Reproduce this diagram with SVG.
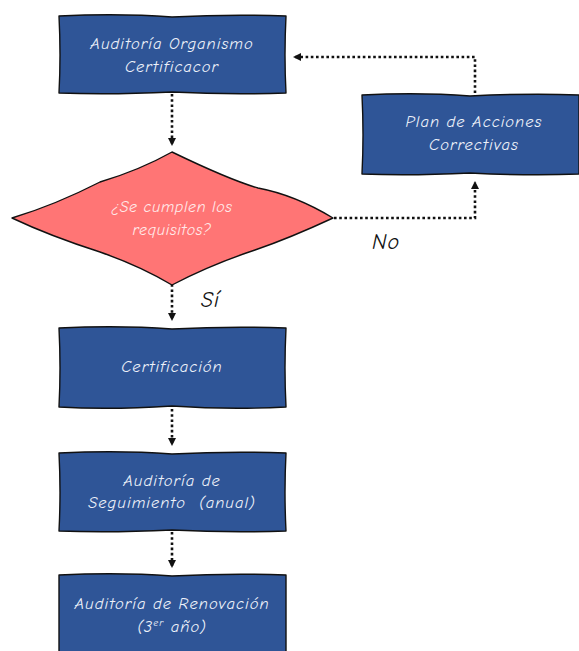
<svg xmlns="http://www.w3.org/2000/svg" width="579" height="651" viewBox="0 0 579 651">
<defs>
<style>
.box{fill:#2F5597;stroke:#111;stroke-width:1.4;stroke-linejoin:round}
.dia{fill:#FF7575;stroke:#111;stroke-width:1.4;stroke-linejoin:round}
.t{font-family:"Comic Neue","DejaVu Sans","Liberation Sans",sans-serif;font-size:16.5px;letter-spacing:1px;fill:#EEF2FA;text-anchor:middle;font-style:italic}
.td{font-family:"Comic Neue","DejaVu Sans","Liberation Sans",sans-serif;font-size:16px;letter-spacing:0.6px;fill:#FFEAEA;text-anchor:middle;font-style:italic}
.lbl{font-family:"Comic Neue","DejaVu Sans","Liberation Sans",sans-serif;font-size:22px;letter-spacing:1px;fill:#111;font-style:italic}
.c{fill:none;stroke:#111;stroke-width:2.6;stroke-dasharray:2.6 2.6}
</style>
<marker id="ah" markerWidth="8" markerHeight="8" refX="7" refY="4" orient="auto" markerUnits="userSpaceOnUse">
<path d="M0,0 L8,4 L0,8 Z" fill="#111"/>
</marker>
</defs>
<g id="connectors">
<path class="c" d="M172,94 V145" marker-end="url(#ah)"/>
<path class="c" d="M334,218 H475 V182" marker-end="url(#ah)"/>
<path class="c" d="M475,93 V57 H294" marker-end="url(#ah)"/>
<path class="c" d="M172,279 V320" marker-end="url(#ah)"/>
<path class="c" d="M172,409 V445" marker-end="url(#ah)"/>
<path class="c" d="M172,532 V567" marker-end="url(#ah)"/>
</g>
<g id="n1">
<path class="box" d="M59,16 Q120,13 172,17 Q230,14 286,16 Q284,55 286,93 Q230,95 172,92 Q110,95 59,93 Q61,55 59,16 Z"/>
<text class="t" x="172" y="49">Auditoría Organismo</text>
<text class="t" x="172" y="72">Certificacor</text>
</g>
<g id="n2">
<path class="box" d="M362,95 Q420,92 470,96 Q530,93 579,95 L579,174 Q530,176 470,173 Q410,176 362,174 Q364,135 362,95 Z"/>
<text class="t" x="474" y="127">Plan de Acciones</text>
<text class="t" x="474" y="150">Correctivas</text>
</g>
<g id="n3">
<path class="dia" d="M172,152 Q230,180 258,188 Q295,195 333,218 Q290,238 255,250 Q210,265 172,285 Q140,266 100,252 Q50,236 12,218 Q55,205 100,182 Q140,170 172,152 Z"/>
<text class="td" x="172" y="212">¿Se cumplen los</text>
<text class="td" x="172" y="235">requisitos?</text>
</g>
<text class="lbl" x="372" y="249">No</text>
<text class="lbl" x="201" y="307">Sí</text>
<g id="n4">
<path class="box" d="M59,328 Q120,325 172,329 Q230,326 286,328 Q284,368 286,407 Q230,410 172,406 Q110,410 59,407 Q61,368 59,328 Z"/>
<text class="t" x="172" y="372">Certificación</text>
</g>
<g id="n5">
<path class="box" d="M59,453 Q120,450 172,454 Q230,451 286,453 Q284,492 286,531 Q230,533 172,530 Q110,533 59,531 Q61,492 59,453 Z"/>
<text class="t" x="172" y="486">Auditoría de</text>
<text class="t" x="172" y="508">Seguimiento&#160; (anual)</text>
</g>
<g id="n6">
<path class="box" d="M59,575 Q120,572 172,576 Q230,573 286,575 L286,652 L59,652 Z"/>
<text class="t" x="172" y="609">Auditoría de Renovación</text>
<text class="t" x="172" y="632">(3<tspan font-size="10" dy="-6">er</tspan><tspan dy="6"> año)</tspan></text>
</g>
</svg>
